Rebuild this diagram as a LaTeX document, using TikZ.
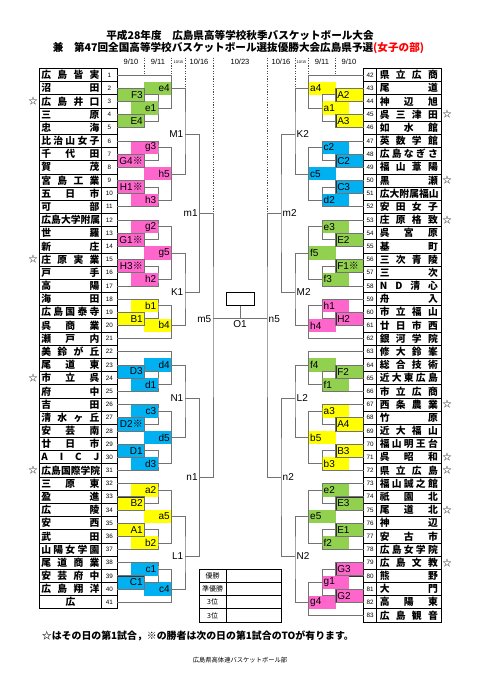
\documentclass[tikz,border=0pt]{standalone}
\usepackage{fontspec}
\setmainfont{Liberation Sans}
\newfontfamily\jpfont{Noto Sans CJK JP}
\usetikzlibrary{positioning}

\definecolor{kgreen}{HTML}{92D050}
\definecolor{kpink}{HTML}{FF66CC}
\definecolor{kyellow}{HTML}{FFFF00}
\definecolor{kblue}{HTML}{00B0F0}
\definecolor{kline}{gray}{0.45}

%% team names are spread over the whole cell
\newlength\namew
\setlength\namew{58pt}
\def\spreadA#1{\ifx\relax#1\else#1\hfill\expandafter\spreadA\fi}
\newcommand\spreadname[1]{\makebox[\namew][s]{\spreadA#1\relax\unskip}}
\newcommand\kome{{\jpfont ※}}

\tikzset{
  bline/.style={draw=kline, line width=0.7pt},
  tline/.style={draw=black, line width=0.7pt},
  sepline/.style={draw=black!70, dotted, line width=0.6pt},
  lbox/.style={inner xsep=1.5pt, inner ysep=0pt, minimum height=13.18pt, text width=24pt,
    font=\fontsize{10}{10}\selectfont},
  lboxL/.style={lbox, align=right, anchor=east},
  lboxR/.style={lbox, align=left, anchor=west},
  ubox/.style={draw=black!80, line width=0.5pt},
  caplbl/.style={inner sep=1.5pt, font=\fontsize{10}{10}\selectfont},
  namelbl/.style={inner sep=0pt, font=\jpfont\bfseries\fontsize{9.8}{9.8}\selectfont},
  numlbl/.style={inner sep=0pt, font=\fontsize{6.3}{6.3}\selectfont},
  starlbl/.style={inner sep=0pt, font=\jpfont\fontsize{9}{9}\selectfont},
  datelbl/.style={inner sep=0pt, font=\fontsize{7.5}{7.5}\selectfont},
  tinylbl/.style={inner sep=0pt, font=\fontsize{3.8}{3.8}\selectfont},
}

\begin{document}
\begin{tikzpicture}[x=1pt, y=-6.59pt, line cap=rect]
  \useasboundingbox (0,-10.381) rectangle (481,92.806);

  %% title
  \node[font=\jpfont\bfseries\fontsize{10.6}{10.6}\selectfont] (title1) at (240,-5.07)
    {平成28年度　広島県高等学校秋季バスケットボール大会};
  \node[font=\jpfont\bfseries\fontsize{10.6}{10.6}\selectfont] (title2) at (238.5,-3.05)
    {兼　第47回全国高等学校バスケットボール選抜優勝大会広島県予選{\color{red}(女子の部)}};

  %% dates
  \node[datelbl] (d1l) at (131,-1) {9/10};
  \node[datelbl] (d2l) at (158,-1) {9/11};
  \node[tinylbl] (d3l) at (178.5,-1) {10/15};
  \node[datelbl] (d4l) at (199,-1) {10/16};
  \node[datelbl] (d5) at (240,-1) {10/23};
  \node[datelbl] (d4r) at (281,-1) {10/16};
  \node[tinylbl] (d3r) at (301.5,-1) {10/15};
  \node[datelbl] (d2r) at (322,-1) {9/11};
  \node[datelbl] (d1r) at (349,-1) {9/10};
  \draw[sepline] (144.5,-1.6) -- (144.5,1);
  \draw[sepline] (171.5,-1.6) -- (171.5,1);
  \draw[sepline] (185,-1.6) -- (185,3);
  \draw[sepline] (213,-1.6) -- (213,22);
  \draw[sepline] (267,-1.6) -- (267,22);
  \draw[sepline] (295,-1.6) -- (295,3);
  \draw[sepline] (308.5,-1.6) -- (308.5,1);
  \draw[sepline] (335.5,-1.6) -- (335.5,1);

  %% left table
  \draw[tline] (39,0) rectangle (117,82);
  \draw[tline] (101.7,0) -- (101.7,82);
  \foreach \k in {2,4,...,80} \draw[tline] (39,\k) -- (117,\k);
  \foreach \nm [count=\i] in {広島皆実,沼田,広島井口,三原,忠海,比治山女子,千代田,賀茂,
      宮島工業,五日市,可部,広島大学附属,世羅,新庄,庄原実業,戸手,高陽,海田,広島国泰寺,
      呉商業,瀬戸内,美鈴が丘,尾道東,市立呉,府中,吉田,清水ヶ丘,安芸南,廿日市,AICJ,
      広島国際学院,三原東,盈進,広陵,安西,武田,山陽女学園,尾道商業,安芸府中,広島翔洋,
      \hfil 広\hfil} {
    \node[namelbl] (name\i) at (70.4,{2*\i-1}) {\expandafter\spreadname\expandafter{\nm}};
    \node[numlbl] (num\i) at (109.4,{2*\i-1}) {\i};
    \coordinate (t\i) at (117,{2*\i-1});
  }
  \foreach \r in {3,15,24,31} \node[starlbl] (star\r) at (33,{2*\r-1}) {☆};

  %% right table
  \draw[tline] (363.3,0) rectangle (441,84);
  \draw[tline] (376.7,0) -- (376.7,84);
  \foreach \k in {2,4,...,82} \draw[tline] (363.3,\k) -- (441,\k);
  \foreach \nm [count=\i from 42] in {県立広商,尾道,神辺旭,呉三津田,如水館,英数学館,
      広島なぎさ,福山葦陽,黒瀬,広大附属福山,安田女子,庄原格致,呉宮原,基町,三次青陵,三次,
      ND清心,舟入,市立福山,廿日市西,銀河学院,修大鈴峯,総合技術,近大東広島,市立広商,
      西条農業,竹原,近大福山,福山明王台,呉昭和,県立広島,福山誠之館,祇園北,尾道北,神辺,
      安古市,広島女学院,広島文教,熊野,大門,高陽東,広島観音} {
    \node[namelbl] (name\i) at (408.85,{2*\i-83}) {\expandafter\spreadname\expandafter{\nm}};
    \node[numlbl] (num\i) at (370,{2*\i-83}) {\i};
    \coordinate (t\i) at (363.3,{2*\i-83});
  }
  \foreach \r in {45,50,53,67,71,72,75,79} \node[starlbl] (star\r) at (447,{2*\r-83}) {☆};

  %% left bracket boxes
  \node[lboxL, fill=kgreen, ubox] (F3) at (144.5,4) {F3};
  \node[lboxL, fill=kgreen, ubox] (E4) at (144.5,8) {E4};
  \node[lboxL, fill=kgreen] (e1) at (158,6) {e1};
  \node[lboxL, fill=kgreen] (e4) at (171.5,3) {e4};
  \node[lboxL, fill=kpink, ubox] (G4) at (144.5,14) {G4\kome};
  \node[lboxL, fill=kpink, ubox] (H1) at (144.5,18) {H1\kome};
  \node[lboxL, fill=kpink] (g3) at (158,12) {g3};
  \node[lboxL, fill=kpink] (h3) at (158,20) {h3};
  \node[lboxL, fill=kpink] (h5) at (171.5,16) {h5};
  \node[lboxL, fill=kpink, ubox] (G1) at (144.5,26) {G1\kome};
  \node[lboxL, fill=kpink, ubox] (H3) at (144.5,30) {H3\kome};
  \node[lboxL, fill=kpink] (g2) at (158,24) {g2};
  \node[lboxL, fill=kpink] (h2) at (158,32) {h2};
  \node[lboxL, fill=kpink] (g5) at (171.5,28) {g5};
  \node[lboxL, fill=kyellow, ubox] (B1) at (144.5,38) {B1};
  \node[lboxL, fill=kyellow] (b1) at (158,36) {b1};
  \node[lboxL, fill=kyellow] (b4) at (171.5,39) {b4};
  \node[lboxL, fill=kblue, ubox] (D3) at (144.5,46) {D3};
  \node[lboxL, fill=kblue] (d1) at (158,48) {d1};
  \node[lboxL, fill=kblue] (d4) at (171.5,45) {d4};
  \node[lboxL, fill=kblue, ubox] (D2) at (144.5,54) {D2\kome};
  \node[lboxL, fill=kblue] (c3) at (158,52) {c3};
  \node[lboxL, fill=kblue, ubox] (D1) at (144.5,58) {D1};
  \node[lboxL, fill=kblue] (d3) at (158,60) {d3};
  \node[lboxL, fill=kblue] (d5) at (171.5,56) {d5};
  \node[lboxL, fill=kyellow, ubox] (B2) at (144.5,66) {B2};
  \node[lboxL, fill=kyellow] (a2) at (158,64) {a2};
  \node[lboxL, fill=kyellow, ubox] (A1) at (144.5,70) {A1};
  \node[lboxL, fill=kyellow] (b2) at (158,72) {b2};
  \node[lboxL, fill=kyellow] (a5) at (171.5,68) {a5};
  \node[lboxL, fill=kblue, ubox] (C1) at (144.5,78) {C1};
  \node[lboxL, fill=kblue] (c1) at (158,76) {c1};
  \node[lboxL, fill=kblue] (c4) at (171.5,79) {c4};
  \node[caplbl, anchor=east] (M1) at (185,10) {M1};
  \node[caplbl, anchor=east] (K1) at (185,34) {K1};
  \node[caplbl, anchor=east] (N1) at (185,50) {N1};
  \node[caplbl, anchor=east] (L1) at (185,74) {L1};
  \node[caplbl, anchor=east] (m1) at (199.3,22) {m1};
  \node[caplbl, anchor=east] (n1) at (199.3,62) {n1};
  \node[caplbl, anchor=east] (m5) at (213,38) {m5};

  %% right bracket boxes
  \node[lboxR, fill=kyellow, ubox] (A2) at (335.5,4) {A2};
  \node[lboxR, fill=kyellow, ubox] (A3) at (335.5,8) {A3};
  \node[lboxR, fill=kyellow] (a1) at (322,6) {a1};
  \node[lboxR, fill=kyellow] (a4) at (308.5,3) {a4};
  \node[lboxR, fill=kblue, ubox] (C2) at (335.5,14) {C2};
  \node[lboxR, fill=kblue, ubox] (C3) at (335.5,18) {C3};
  \node[lboxR, fill=kblue] (c2) at (322,12) {c2};
  \node[lboxR, fill=kblue] (d2) at (322,20) {d2};
  \node[lboxR, fill=kblue] (c5) at (308.5,16) {c5};
  \node[lboxR, fill=kgreen, ubox] (E2) at (335.5,26) {E2};
  \node[lboxR, fill=kgreen, ubox] (F1) at (335.5,30) {F1\kome};
  \node[lboxR, fill=kgreen] (e3) at (322,24) {e3};
  \node[lboxR, fill=kgreen] (f3) at (322,32) {f3};
  \node[lboxR, fill=kgreen] (f5) at (308.5,28) {f5};
  \node[lboxR, fill=kpink, ubox] (H2) at (335.5,38) {H2};
  \node[lboxR, fill=kpink] (h1) at (322,36) {h1};
  \node[lboxR, fill=kpink] (h4) at (308.5,39) {h4};
  \node[lboxR, fill=kgreen, ubox] (F2) at (335.5,46) {F2};
  \node[lboxR, fill=kgreen] (f1) at (322,48) {f1};
  \node[lboxR, fill=kgreen] (f4) at (308.5,45) {f4};
  \node[lboxR, fill=kyellow, ubox] (A4) at (335.5,54) {A4};
  \node[lboxR, fill=kyellow] (a3) at (322,52) {a3};
  \node[lboxR, fill=kyellow, ubox] (B3) at (335.5,58) {B3};
  \node[lboxR, fill=kyellow] (b3) at (322,60) {b3};
  \node[lboxR, fill=kyellow] (b5) at (308.5,56) {b5};
  \node[lboxR, fill=kgreen, ubox] (E3) at (335.5,66) {E3};
  \node[lboxR, fill=kgreen] (e2) at (322,64) {e2};
  \node[lboxR, fill=kgreen, ubox] (E1) at (335.5,70) {E1};
  \node[lboxR, fill=kgreen] (f2) at (322,72) {f2};
  \node[lboxR, fill=kgreen] (e5) at (308.5,68) {e5};
  \node[lboxR, fill=kpink, ubox] (G3) at (335.5,76) {G3};
  \node[lboxR, fill=kpink, ubox] (G2) at (335.5,80) {G2};
  \node[lboxR, fill=kpink] (g1) at (322,78) {g1};
  \node[lboxR, fill=kpink] (g4) at (308.5,81) {g4};
  \node[caplbl, anchor=west] (K2) at (295,10) {K2};
  \node[caplbl, anchor=west] (M2) at (295,34) {M2};
  \node[caplbl, anchor=west] (L2) at (295,50) {L2};
  \node[caplbl, anchor=west] (N2) at (295,74) {N2};
  \node[caplbl, anchor=west] (m2) at (281,22) {m2};
  \node[caplbl, anchor=west] (n2) at (281,62) {n2};
  \node[caplbl, anchor=west] (n5) at (267,38) {n5};

  %% left bracket lines
  \draw[bline] (t2) -| (F3.east) |- (t3);
  \draw[bline] (t4) -| (E4.east) |- (t5);
  \draw[bline] (F3.east) -| (e1.east) |- (E4.east);
  \draw[bline] (t1) -| (e4.east) |- (e1.east);
  \draw[bline] (t7) -| (G4.east) |- (t8);
  \draw[bline] (t9) -| (H1.east) |- (t10);
  \draw[bline] (t6) -| (g3.east) |- (G4.east);
  \draw[bline] (H1.east) -| (h3.east) |- (t11);
  \draw[bline] (g3.east) -| (h5.east) |- (h3.east);
  \draw[bline] (e4.east) -| (M1.east) |- (h5.east);
  \draw[bline] (t13) -| (G1.east) |- (t14);
  \draw[bline] (t15) -| (H3.east) |- (t16);
  \draw[bline] (t12) -| (g2.east) |- (G1.east);
  \draw[bline] (H3.east) -| (h2.east) |- (t17);
  \draw[bline] (g2.east) -| (g5.east) |- (h2.east);
  \draw[bline] (t19) -| (B1.east) |- (t20);
  \draw[bline] (t18) -| (b1.east) |- (B1.east);
  \draw[bline] (b1.east) -| (b4.east) |- (t21);
  \draw[bline] (g5.east) -| (K1.east) |- (b4.east);
  \draw[bline] (M1.east) -| (m1.east) |- (K1.east);
  \draw[bline] (t23) -| (D3.east) |- (t24);
  \draw[bline] (D3.east) -| (d1.east) |- (t25);
  \draw[bline] (t22) -| (d4.east) |- (d1.east);
  \draw[bline] (t27) -| (D2.east) |- (t28);
  \draw[bline] (t26) -| (c3.east) |- (D2.east);
  \draw[bline] (t29) -| (D1.east) |- (t30);
  \draw[bline] (D1.east) -| (d3.east) |- (t31);
  \draw[bline] (c3.east) -| (d5.east) |- (d3.east);
  \draw[bline] (d4.east) -| (N1.east) |- (d5.east);
  \draw[bline] (t33) -| (B2.east) |- (t34);
  \draw[bline] (t32) -| (a2.east) |- (B2.east);
  \draw[bline] (t35) -| (A1.east) |- (t36);
  \draw[bline] (A1.east) -| (b2.east) |- (t37);
  \draw[bline] (a2.east) -| (a5.east) |- (b2.east);
  \draw[bline] (t39) -| (C1.east) |- (t40);
  \draw[bline] (t38) -| (c1.east) |- (C1.east);
  \draw[bline] (c1.east) -| (c4.east) |- (t41);
  \draw[bline] (a5.east) -| (L1.east) |- (c4.east);
  \draw[bline] (N1.east) -| (n1.east) |- (L1.east);
  \draw[bline] (m1.east) -| (m5.east) |- (n1.east);

  %% right bracket lines
  \draw[bline] (t43) -| (A2.west) |- (t44);
  \draw[bline] (t45) -| (A3.west) |- (t46);
  \draw[bline] (A2.west) -| (a1.west) |- (A3.west);
  \draw[bline] (t42) -| (a4.west) |- (a1.west);
  \draw[bline] (t48) -| (C2.west) |- (t49);
  \draw[bline] (t50) -| (C3.west) |- (t51);
  \draw[bline] (t47) -| (c2.west) |- (C2.west);
  \draw[bline] (C3.west) -| (d2.west) |- (t52);
  \draw[bline] (c2.west) -| (c5.west) |- (d2.west);
  \draw[bline] (a4.west) -| (K2.west) |- (c5.west);
  \draw[bline] (t54) -| (E2.west) |- (t55);
  \draw[bline] (t56) -| (F1.west) |- (t57);
  \draw[bline] (t53) -| (e3.west) |- (E2.west);
  \draw[bline] (F1.west) -| (f3.west) |- (t58);
  \draw[bline] (e3.west) -| (f5.west) |- (f3.west);
  \draw[bline] (t60) -| (H2.west) |- (t61);
  \draw[bline] (t59) -| (h1.west) |- (H2.west);
  \draw[bline] (h1.west) -| (h4.west) |- (t62);
  \draw[bline] (f5.west) -| (M2.west) |- (h4.west);
  \draw[bline] (K2.west) -| (m2.west) |- (M2.west);
  \draw[bline] (t64) -| (F2.west) |- (t65);
  \draw[bline] (F2.west) -| (f1.west) |- (t66);
  \draw[bline] (t63) -| (f4.west) |- (f1.west);
  \draw[bline] (t68) -| (A4.west) |- (t69);
  \draw[bline] (t67) -| (a3.west) |- (A4.west);
  \draw[bline] (t70) -| (B3.west) |- (t71);
  \draw[bline] (B3.west) -| (b3.west) |- (t72);
  \draw[bline] (a3.west) -| (b5.west) |- (b3.west);
  \draw[bline] (f4.west) -| (L2.west) |- (b5.west);
  \draw[bline] (t74) -| (E3.west) |- (t75);
  \draw[bline] (t73) -| (e2.west) |- (E3.west);
  \draw[bline] (t76) -| (E1.west) |- (t77);
  \draw[bline] (E1.west) -| (f2.west) |- (t78);
  \draw[bline] (e2.west) -| (e5.west) |- (f2.west);
  \draw[bline] (t79) -| (G3.west) |- (t80);
  \draw[bline] (t81) -| (G2.west) |- (t82);
  \draw[bline] (G3.west) -| (g1.west) |- (G2.west);
  \draw[bline] (g1.west) -| (g4.west) |- (t83);
  \draw[bline] (e5.west) -| (N2.west) |- (g4.west);
  \draw[bline] (L2.west) -| (n2.west) |- (N2.west);
  \draw[bline] (m2.west) -| (n5.west) |- (n2.west);

  %% final
  \node[draw=black, line width=0.7pt, minimum width=28pt, minimum height=13.18pt, inner sep=0pt]
    (champ) at (240,35) {};
  \coordinate (O1) at (240,38);
  \draw[bline] (m5.east) -- (n5.west);
  \draw[bline] (champ.south) -- (O1);
  \node[caplbl, below] (O1lbl) at (O1) {O1};

  %% result table
  \draw[tline] (199.3,76) rectangle (281.7,84);
  \draw[tline] (226,76) -- (226,84);
  \foreach \k in {78,80,82} \draw[tline] (199.3,\k) -- (281.7,\k);
  \foreach \t [count=\i] in {優勝,準優勝,3位,3位}
    \node[font=\jpfont\fontsize{7}{7}\selectfont, inner sep=0pt] (res\i) at (212.6,{75+2*\i}) {\t};

  %% notes
  \node[anchor=west, inner sep=0pt, font=\jpfont\bfseries\fontsize{9.9}{9.9}\selectfont] (note) at (41.7,86.13)
    {☆はその日の第1試合，※の勝者は次の日の第1試合のTOが有ります。};
  \node[inner sep=0pt, font=\jpfont\fontsize{6.3}{6.3}\selectfont] (footer) at (240,89.77)
    {広島県高体連バスケットボール部};
\end{tikzpicture}
\end{document}
